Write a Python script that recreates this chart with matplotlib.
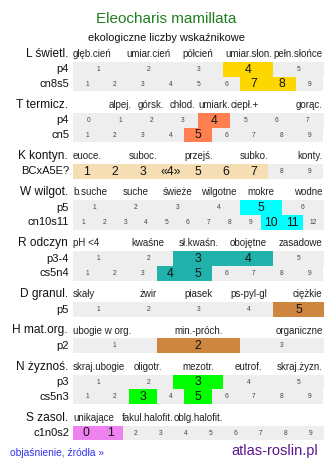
import matplotlib
matplotlib.use("Agg")
import matplotlib.pyplot as plt

plt.rcParams['font.family'] = ['Liberation Sans', 'DejaVu Sans']

title = "Eleocharis mamillata"
subtitle = "ekologiczne liczby wskaźnikowe"

# one list per indicator: header, descriptor slots, rows (name, first, last cell), highlighted cells
L_header = "L świetl."
L_labels = ['głęb.cień', 'umiar.cień', 'półcień', 'umiar.słon.', 'pełn.słońce']
L_rows = [('p4', 1, 5), ('cn8s5', 1, 9)]
L_marks = [[4], [7, 8]]

T_header = "T termicz."
T_labels = ['', 'alpej.', 'górsk.', 'chłod.', 'umiark.', 'ciepł.+', '', 'gorąc.']
T_rows = [('p4', 0, 7), ('cn5', 1, 9)]
T_marks = [[4], [5]]

K_header = "K kontyn."
K_labels = ['euoce.', '', 'suboc.', '', 'przejś.', '', 'subko.', '', 'konty.']
K_rows = [('BCxA5E?', 1, 9)]
K_marks = [[1, 2, 3, 4, 5, 6, 7]]

W_header = "W wilgot."
W_labels = ['b.suche', 'suche', 'świeże', 'wilgotne', 'mokre', 'wodne']
W_rows = [('p5', 1, 6), ('cn10s11', 1, 12)]
W_marks = [[5], [10, 11]]

R_header = "R odczyn"
R_labels = ['pH <4', 'kwaśne', 'sł.kwaśn.', 'obojętne', 'zasadowe']
R_rows = [('p3-4', 1, 5), ('cs5n4', 1, 9)]
R_marks = [[3, 4], [4, 5]]

D_header = "D granul."
D_labels = ['skały', 'żwir', 'piasek', 'ps-pyl-gl', 'ciężkie']
D_rows = [('p5', 1, 5)]
D_marks = [[5]]

H_header = "H mat.org."
H_labels = ['ubogie w org.', 'min.-próch.', 'organiczne']
H_rows = [('p2', 1, 3)]
H_marks = [[2]]

N_header = "N żyznoś."
N_labels = ['skraj.ubogie', 'oligotr.', 'mezotr.', 'eutrof.', 'skraj.żyzn.']
N_rows = [('p3', 1, 5), ('cs5n3', 1, 9)]
N_marks = [[3], [3, 5]]

S_header = "S zasol."
S_labels = ['unikające', 'fakul.halofit.', 'oblg.halofit.', '', '']
S_rows = [('c1n0s2', 0, 9)]
S_marks = [[0, 1]]

special_text = {('K', 4): '«4»'}

sections = [
    ('L', L_header, L_labels, L_rows, L_marks, '#ffd700'),
    ('T', T_header, T_labels, T_rows, T_marks, '#ff7f50'),
    ('K', K_header, K_labels, K_rows, K_marks, '#f5deb3'),
    ('W', W_header, W_labels, W_rows, W_marks, '#00ffff'),
    ('R', R_header, R_labels, R_rows, R_marks, '#20b2aa'),
    ('D', D_header, D_labels, D_rows, D_marks, '#cd853f'),
    ('H', H_header, H_labels, H_rows, H_marks, '#cd853f'),
    ('N', N_header, N_labels, N_rows, N_marks, '#00ff00'),
    ('S', S_header, S_labels, S_rows, S_marks, '#ee82ee'),
]

W_PX, H_PX = 334, 469
fig = plt.figure(figsize=(W_PX / 100, H_PX / 100), dpi=100)
ax = fig.add_axes([0, 0, 1, 1])
ax.set_xlim(0, W_PX)
ax.set_ylim(H_PX, 0)
ax.axis('off')

x0, x1 = 73, 323.5
row_h = 14.75

ax.text(166, 19, title, color='#1f7f1f', fontsize=11, ha='center', va='center')
ax.text(166, 38, subtitle, color='#111111', fontsize=7.9, ha='center', va='center')

y = 54
for key, header, labels, rows, marks, color in sections:
    ax.text(68, y, header, fontsize=8.6, ha='right', va='center', color='#111111')
    n = len(labels)
    slot = (x1 - x0) / n
    for i, lab in enumerate(labels):
        if not lab:
            continue
        if i == 0:
            ax.text(x0, y, lab, fontsize=7.0, ha='left', va='center', color='#222222')
        elif i == n - 1:
            ax.text(x1 - 1, y, lab, fontsize=7.0, ha='right', va='center', color='#222222')
        else:
            ax.text(x0 + slot * (i + 0.5), y, lab, fontsize=7.0, ha='center', va='center', color='#222222')
    top = y + 7.9
    for (name, first, last), hl in zip(rows, marks):
        yc = top + row_h / 2
        vals = list(range(first, last + 1))
        cw = (x1 - x0) / len(vals)
        lefts = [x0 + (v - first) * cw for v in vals]
        cols = [color if v in hl else '#eeeeee' for v in vals]
        ax.barh([yc] * len(vals), [cw] * len(vals), left=lefts, height=row_h,
                color=cols, linewidth=0)
        ax.text(69, yc, name, fontsize=8.0, ha='right', va='center', color='#111111')
        for v, lx in zip(vals, lefts):
            if v in hl:
                txt = special_text.get((key, v), str(v))
                ax.text(lx + cw / 2, yc + 0.3, txt, fontsize=8.8, ha='center', va='center', color='#111111')
            else:
                ax.text(lx + cw / 2, yc, str(v), fontsize=4.8, ha='center', va='center', color='#444444')
        top += row_h
    y = top + 13.6

ax.text(10, 453.5, "objaśnienie, źródła »", fontsize=7.4, color='#3333ee', ha='left', va='center')
ax.text(318, 451.5, "atlas-roslin.pl", fontsize=10.5, color='#5c1490', ha='right', va='center')

fig.savefig('out.png', dpi=100)
